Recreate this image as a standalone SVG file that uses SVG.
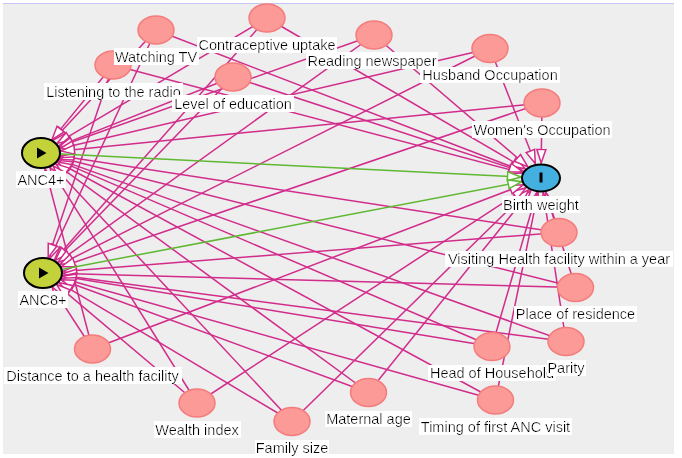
<svg xmlns="http://www.w3.org/2000/svg" width="682" height="458" viewBox="0 0 682 458">
<style>
.e{stroke:#d12c8b;stroke-width:1.5;fill:none;marker-end:url(#ap)}
.g{stroke:#5fb832;stroke-width:1.5;fill:none;marker-end:url(#ag)}
.n{fill:#fb9a96;stroke:#f47c7c;stroke-width:1.5}
.x{fill:#c3d23a;stroke:#000;stroke-width:2}
.o{fill:#44b0e0;stroke:#000;stroke-width:2}
text{font-family:"Liberation Sans",Arial,sans-serif;font-size:14.5px;fill:#000;text-anchor:middle;filter:url(#lb)}
</style>
<defs>
<filter id="lb" x="-0.01" y="0" width="1.02" height="1"><feFlood flood-color="#fff"/><feComposite in="SourceGraphic" operator="over"/></filter>
<marker id="ap" markerUnits="userSpaceOnUse" markerWidth="16" markerHeight="12" viewBox="0 0 16 12" refX="14.5" refY="6" orient="auto"><path d="M1,1.5 L14.5,6 L1,10.5 Z" fill="#fff" stroke="#d12c8b" stroke-width="1.5"/></marker>
<marker id="ag" markerUnits="userSpaceOnUse" markerWidth="16" markerHeight="12" viewBox="0 0 16 12" refX="14.5" refY="6" orient="auto"><path d="M1,1.5 L14.5,6 L1,10.5 Z" fill="#fff" stroke="#5fb832" stroke-width="1.5"/></marker>
</defs>
<rect x="3" y="3" width="671" height="451" fill="#eeeeee"/>
<line x1="3" y1="3.5" x2="674" y2="3.5" stroke="#c6c6f5" stroke-width="1"/>
<g id="edges">
<line class="e" x1="156" y1="30" x2="53.0" y2="140.2"/>
<line class="e" x1="267" y1="18" x2="57.0" y2="143.4"/>
<line class="e" x1="113" y1="65" x2="52.0" y2="139.6"/>
<line class="e" x1="233" y1="77" x2="58.9" y2="145.9"/>
<line class="e" x1="374" y1="35" x2="59.3" y2="146.5"/>
<line class="e" x1="490" y1="48.5" x2="60.2" y2="148.5"/>
<line class="e" x1="542" y1="103" x2="60.9" y2="151.0"/>
<line class="e" x1="559" y1="232.5" x2="60.6" y2="156.0"/>
<line class="e" x1="575.5" y1="287.5" x2="60.1" y2="157.8"/>
<line class="e" x1="566" y1="341.5" x2="59.2" y2="159.6"/>
<line class="e" x1="492" y1="346.5" x2="58.6" y2="160.6"/>
<line class="e" x1="495.5" y1="400" x2="57.5" y2="162.0"/>
<line class="e" x1="368.5" y1="392.5" x2="55.8" y2="163.8"/>
<line class="e" x1="292" y1="421.5" x2="53.0" y2="165.8"/>
<line class="e" x1="197" y1="403" x2="49.9" y2="167.3"/>
<line class="e" x1="92.5" y1="349" x2="45.1" y2="168.7"/>
<line class="e" x1="156" y1="30" x2="50.0" y2="258.0"/>
<line class="e" x1="267" y1="18" x2="54.5" y2="259.9"/>
<line class="e" x1="113" y1="65" x2="48.2" y2="257.6"/>
<line class="e" x1="233" y1="77" x2="55.3" y2="260.4"/>
<line class="e" x1="374" y1="35" x2="57.9" y2="262.3"/>
<line class="e" x1="490" y1="48.5" x2="59.9" y2="264.5"/>
<line class="e" x1="542" y1="103" x2="61.4" y2="266.7"/>
<line class="e" x1="559" y1="232.5" x2="62.9" y2="271.4"/>
<line class="e" x1="575.5" y1="287.5" x2="63.0" y2="273.5"/>
<line class="e" x1="566" y1="341.5" x2="62.7" y2="275.6"/>
<line class="e" x1="492" y1="346.5" x2="62.6" y2="276.2"/>
<line class="e" x1="495.5" y1="400" x2="61.9" y2="278.3"/>
<line class="e" x1="368.5" y1="392.5" x2="61.2" y2="279.7"/>
<line class="e" x1="292" y1="421.5" x2="59.0" y2="282.6"/>
<line class="e" x1="197" y1="403" x2="56.8" y2="284.6"/>
<line class="e" x1="92.5" y1="349" x2="52.2" y2="287.2"/>
<line class="e" x1="156" y1="30" x2="523.2" y2="171.2"/>
<line class="e" x1="267" y1="18" x2="525.2" y2="168.8"/>
<line class="e" x1="113" y1="65" x2="522.1" y2="173.0"/>
<line class="e" x1="233" y1="77" x2="522.7" y2="172.0"/>
<line class="e" x1="374" y1="35" x2="527.8" y2="166.7"/>
<line class="e" x1="490" y1="48.5" x2="535.3" y2="163.6"/>
<line class="e" x1="542" y1="103" x2="541.2" y2="163.0"/>
<line class="e" x1="559" y1="232.5" x2="545.8" y2="192.6"/>
<line class="e" x1="575.5" y1="287.5" x2="545.6" y2="192.6"/>
<line class="e" x1="566" y1="341.5" x2="543.3" y2="192.9"/>
<line class="e" x1="492" y1="346.5" x2="536.7" y2="192.7"/>
<line class="e" x1="495.5" y1="400" x2="538.0" y2="192.8"/>
<line class="e" x1="368.5" y1="392.5" x2="530.7" y2="190.8"/>
<line class="e" x1="292" y1="421.5" x2="528.8" y2="189.9"/>
<line class="e" x1="197" y1="403" x2="525.9" y2="187.9"/>
<line class="e" x1="92.5" y1="349" x2="523.2" y2="184.8"/>
<line class="g" x1="41" y1="153" x2="521.0" y2="177.0"/>
<line class="g" x1="43" y1="273" x2="521.6" y2="181.7"/>
</g>
<g id="n-radio"><ellipse class="n" cx="113" cy="65" rx="18" ry="14"/><text x="113.5" y="96.5">Listening to the radio</text></g>
<g id="n-tv"><ellipse class="n" cx="156" cy="30" rx="18" ry="14"/><text x="156" y="61.5">Watching TV</text></g>
<g id="n-contraceptive"><ellipse class="n" cx="267" cy="18" rx="18" ry="14"/><text x="267" y="50">Contraceptive uptake</text></g>
<g id="n-education"><ellipse class="n" cx="233" cy="77" rx="18" ry="14"/><text x="233" y="108.5">Level of education</text></g>
<g id="n-newspaper"><ellipse class="n" cx="374" cy="35" rx="18" ry="14"/><text x="372" y="65.5">Reading newspaper</text></g>
<g id="n-husband"><ellipse class="n" cx="490" cy="48.5" rx="18" ry="14"/><text x="490" y="80">Husband Occupation</text></g>
<g id="n-women"><ellipse class="n" cx="542" cy="103" rx="18" ry="14"/><text x="542" y="134.5">Women's Occupation</text></g>
<g id="n-anc4"><ellipse class="x" cx="41" cy="153" rx="19" ry="15"/><path d="M37,147.5 L46.5,153 L37,158.5 Z" fill="#000"/><text x="41" y="184.5">ANC4+</text></g>
<g id="n-anc8"><ellipse class="x" cx="43" cy="273" rx="19" ry="15"/><path d="M39,267.5 L48.5,273 L39,278.5 Z" fill="#000"/><text x="43" y="304.5">ANC8+</text></g>
<g id="n-bw"><ellipse class="o" cx="541" cy="178" rx="19" ry="13.5"/><rect x="539.5" y="172.5" width="3" height="10" fill="#000"/><text x="541" y="209.5">Birth weight</text></g>
<g id="n-visiting"><ellipse class="n" cx="559" cy="232.5" rx="18" ry="14"/><text x="559" y="264">Visiting Health facility within a year</text></g>
<g id="n-residence"><ellipse class="n" cx="575.5" cy="287.5" rx="18" ry="14"/><text x="575.5" y="319">Place of residence</text></g>
<g id="n-head"><ellipse class="n" cx="492" cy="346.5" rx="18" ry="14"/><text x="492" y="378">Head of Household</text></g>
<g id="n-parity"><ellipse class="n" cx="566" cy="341.5" rx="18" ry="14"/><text x="566" y="373">Parity</text></g>
<g id="n-timing"><ellipse class="n" cx="495.5" cy="400" rx="18" ry="14"/><text x="495.5" y="431.5">Timing of first ANC visit</text></g>
<g id="n-maternal"><ellipse class="n" cx="368.5" cy="392.5" rx="18" ry="14"/><text x="368.5" y="424">Maternal age</text></g>
<g id="n-family"><ellipse class="n" cx="292" cy="421.5" rx="18" ry="14"/><text x="292" y="453">Family size</text></g>
<g id="n-wealth"><ellipse class="n" cx="197" cy="403" rx="18" ry="14"/><text x="197" y="434.5">Wealth index</text></g>
<g id="n-distance"><ellipse class="n" cx="92.5" cy="349" rx="18" ry="14"/><text x="92.5" y="380.5">Distance to a health facility</text></g>
</svg>
